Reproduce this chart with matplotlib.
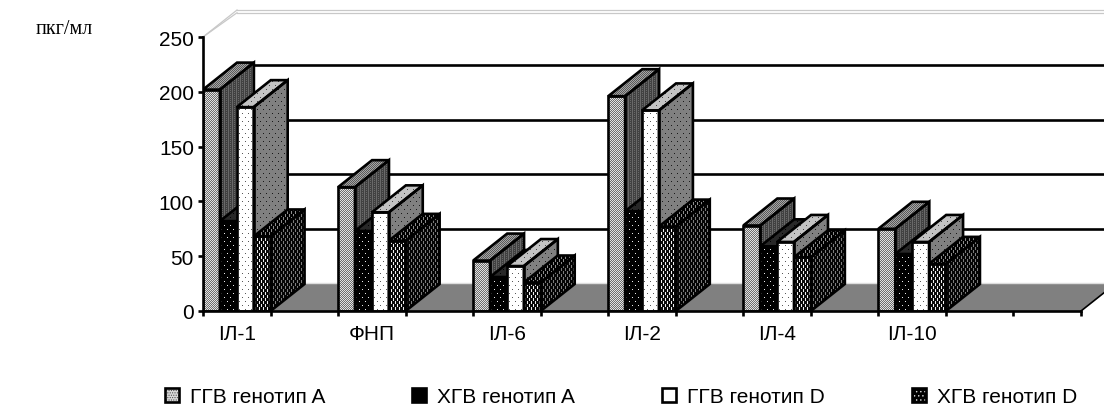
import numpy as np
import matplotlib
matplotlib.use('Agg')
import matplotlib.pyplot as plt
from matplotlib.patches import Polygon, Patch
from matplotlib.legend_handler import HandlerTuple

plt.rcParams['font.family'] = ['Liberation Sans', 'DejaVu Sans']
plt.rcParams['hatch.linewidth'] = 0.5

categories = ['ІЛ-1', 'ФНП', 'ІЛ-6', 'ІЛ-2', 'ІЛ-4', 'ІЛ-10']
ggv_a = [202, 113, 46, 196, 78, 75]
hgv_a = [82, 73, 31, 91, 59, 52]
ggv_d = [186, 90, 41, 183, 63, 63]
hgv_d = [68, 64, 26, 77, 49, 43]
series_names = ['ГГВ генотип A', 'ХГВ генотип A', 'ГГВ генотип D', 'ХГВ генотип D']
series_values = [ggv_a, hgv_a, ggv_d, hgv_d]
y_ticks = [0, 50, 100, 150, 200, 250]

AX_W, AX_H = 878, 274  # axes size in px
bar_w = 0.125
depth_x = 34 / 135
depth_y = 27 / 1.096
lw = 1.9


def checker(a, b):
    return np.array([[a, b], [b, a]])


def dots(bg, fg):
    # sparse staggered dots, like the old office fill patterns
    t = np.full((8, 6), bg)
    t[0, 0] = fg
    t[4, 3] = fg
    return t


def dashes(bg, fg):
    t = np.full((6, 4), bg)
    t[0:3, 0] = fg
    t[3:6, 2] = fg
    return t


def columns(a, b):
    t = np.full((4, 4), a)
    t[:, 1] = b
    t[1, 3] = b
    t[3, 3] = b
    return t


# tile for front, top, side of every series
textures = [
    (checker(225, 110), checker(90, 165), columns(65, 105)),
    (dots(0, 235), dots(40, 0), dots(60, 0)),
    (dots(255, 90), dots(195, 70), dots(128, 25)),
    (dashes(10, 240), dashes(0, 140), dashes(5, 125)),
]

fig = plt.figure(figsize=(11.04, 4.06), dpi=100)
ax = fig.add_axes([203 / 1104, 1 - 312 / 406, AX_W / 1104, AX_H / 406])
ax.patch.set_visible(False)


def shaded(pts, tile, z):
    rows = AX_H // tile.shape[0] + 1
    cols = AX_W // tile.shape[1] + 1
    img = np.tile(tile, (rows, cols))[:AX_H, :AX_W]
    im = ax.imshow(img, extent=(0, 6.5, 0, 250), aspect='auto', origin='upper', cmap='gray',
                   vmin=0, vmax=255, interpolation='nearest', zorder=z)
    im.set_clip_path(Polygon(pts, transform=ax.transData))
    ax.add_patch(Polygon(pts, fill=False, edgecolor='black', lw=lw, zorder=z + 0.5))


def bar3d(x, v, st, z):
    shaded([(x, 0), (x + bar_w, 0), (x + bar_w, v), (x, v)], st[0], z)
    shaded([(x, v), (x + bar_w, v), (x + bar_w + depth_x, v + depth_y), (x + depth_x, v + depth_y)], st[1], z)
    shaded([(x + bar_w, 0), (x + bar_w + depth_x, depth_y), (x + bar_w + depth_x, v + depth_y), (x + bar_w, v)], st[2], z)


# walls and floor
ax.add_patch(Polygon([(0, 0), (6.5, 0), (6.5 + depth_x, depth_y), (depth_x, depth_y)],
                     facecolor='#808080', edgecolor='none', zorder=1, clip_on=False))
ax.plot([6.5, 6.5 + depth_x], [0, depth_y], color='black', lw=1.2, zorder=1, clip_on=False)
ax.plot([depth_x, 6.5 + depth_x], [depth_y + 1] * 2, color='#dddddd', lw=1, zorder=1, clip_on=False)
for t in y_ticks[1:-1]:
    ax.plot([depth_x, 6.5 + depth_x], [t + depth_y] * 2, color='black', lw=1.9, zorder=1.5, clip_on=False)
for off in (0, -2.5):
    ax.plot([depth_x, 6.5 + depth_x], [250 + depth_y + off] * 2, color='#c8c8c8', lw=0.9, zorder=1, clip_on=False)
    ax.plot([0, depth_x], [250, 250 + depth_y + off], color='#c8c8c8', lw=0.9, zorder=1, clip_on=False)

z = 2
for i in range(len(categories)):
    for k, vals in enumerate(series_values):
        bar3d(i + k * bar_w, vals[i], textures[k], z)
        z += 1

ax.set_xlim(0, 6.5)
ax.set_ylim(0, 250)

for s in ('top', 'right'):
    ax.spines[s].set_visible(False)
for s in ('left', 'bottom'):
    ax.spines[s].set_linewidth(lw)
    ax.spines[s].set_zorder(1000)
ax.set_yticks(y_ticks)
ax.tick_params(axis='y', which='major', length=3.5, width=lw, labelsize=15, pad=3)
ax.set_xticks([0.5 * j for j in range(14)])
ax.set_xticklabels([])
ax.tick_params(axis='x', which='major', length=3.5, width=lw)
ax.set_xticks([i + 0.25 for i in range(len(categories))], categories, minor=True)
ax.tick_params(axis='x', which='minor', length=0, labelsize=15, pad=9.5)

fig.text(64 / 1104, 1 - 30 / 406, 'пкг/мл', family='Liberation Serif', fontsize=14.5, ha='center', va='center')

handles = [
    (Patch(facecolor='#d8d8d8', edgecolor='#444444', hatch='.......', lw=0), Patch(fill=False, edgecolor='black', lw=1.9)),
    (Patch(facecolor='black', lw=0), Patch(fill=False, edgecolor='black', lw=1.9)),
    (Patch(facecolor='white', lw=0), Patch(fill=False, edgecolor='black', lw=1.9)),
    (Patch(facecolor='black', edgecolor='#dddddd', hatch='....', lw=0), Patch(fill=False, edgecolor='black', lw=1.9)),
]
fig.legend(handles, series_names, ncol=4, frameon=False, fontsize=15,
           handler_map={tuple: HandlerTuple(ndivide=1, pad=0)},
           loc='center left', bbox_to_anchor=(165 / 1104, 1 - 398 / 406),
           handlelength=0.65, handleheight=0.65, handletextpad=0.55, columnspacing=4.18, borderpad=0, borderaxespad=0)

fig.savefig('out.png', dpi=100)
